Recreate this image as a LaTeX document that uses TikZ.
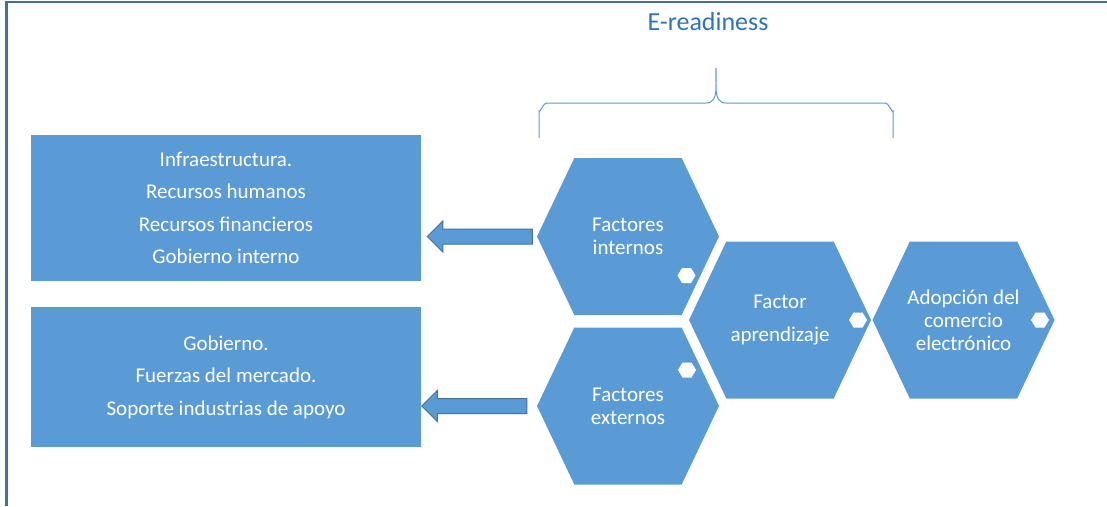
\documentclass[tikz,border=0pt]{standalone}
\usepackage{fontspec}
\setmainfont{Carlito}
\usetikzlibrary{positioning,calc,shapes.arrows}

\definecolor{hexblue}{HTML}{5B9BD5}
\definecolor{edgeblue}{HTML}{41719C}
\definecolor{titleblue}{HTML}{2E75B6}

\tikzset{
  hexfill/.style 2 args={path picture={
    \fill[#1] (path picture bounding box.west)
      -- ($(path picture bounding box.north west)!#2!(path picture bounding box.north east)$)
      -- ($(path picture bounding box.north east)!#2!(path picture bounding box.north west)$)
      -- (path picture bounding box.east)
      -- ($(path picture bounding box.south east)!#2!(path picture bounding box.south west)$)
      -- ($(path picture bounding box.south west)!#2!(path picture bounding box.south east)$)
      -- cycle;}},
  hexa/.style={hexfill={hexblue}{0.205}, minimum width=182pt, minimum height=157pt,
    inner sep=0pt, text=white, align=center, font=\fontsize{21}{23}\selectfont},
  knob/.style={hexfill={white}{0.25}, minimum width=18pt, minimum height=15pt, inner sep=0pt},
  listbox/.style={fill=hexblue, minimum width=390pt, inner sep=0pt, text=white,
    align=center, font=\fontsize{21}{32.5}\selectfont},
  blockarrow/.style={single arrow, rotate=180, fill=hexblue, draw=edgeblue, line width=1pt,
    minimum height=105pt, minimum width=0pt, inner xsep=0pt, inner ysep=7pt,
    single arrow head extend=8pt}
}

\begin{document}
\begin{tikzpicture}[x=1pt, y=-1pt]
\useasboundingbox (0,0) rectangle (1107,506);

% frame
\draw[edgeblue, line width=2.5pt] (6.5,506) -- (6.5,2) -- (1107,2);

\node[font=\fontsize{26}{30}\selectfont, text=titleblue] (title) at (708,22) {E-readiness};

% brace
\draw[hexblue, line width=1pt] (539,138) -- (539,111) to[out=-90,in=180] (547,103)
  -- (706,103) to[out=0,in=-95] (716,68) to[out=-85,in=180] (726,103)
  -- (885,103) to[out=0,in=-90] (893,111) -- (893,138);

% left lists
\node[listbox, minimum height=146pt] (ibox) at (226,208)
  {Infraestructura.\\Recursos humanos\\Recursos financieros\\Gobierno interno};
\node[listbox, minimum height=140pt] (ebox) at (226,377)
  {Gobierno.\\Fuerzas del mercado.\\Soporte industrias de apoyo};

% hexagons
\node[hexa] (int) at (628,236.5) {Factores\\internos};
\node[hexa] (ext) at (628,406) {Factores\\externos};
\node[hexa] (apr) at (780,320) {Factor\\[10pt]aprendizaje};
\node[hexa] (adop) at (963.5,320) {Adopción del\\comercio\\electrónico};

\node[knob] (kint) at (686.5,275.5) {};
\node[knob] (kext) at (687,370) {};
\node[knob] (kapr) at (858,320) {};
\node[knob] (kadop) at (1040,320) {};

% arrows
\node[blockarrow] (aint) at ($(ibox.east |- int.west)!0.5!(int.west)+(4.5,0)$) {};
\node[blockarrow] (aext) at ($(ebox.east |- ext.west)!0.5!(ext.west)+(-1,0)$) {};
\end{tikzpicture}
\end{document}
